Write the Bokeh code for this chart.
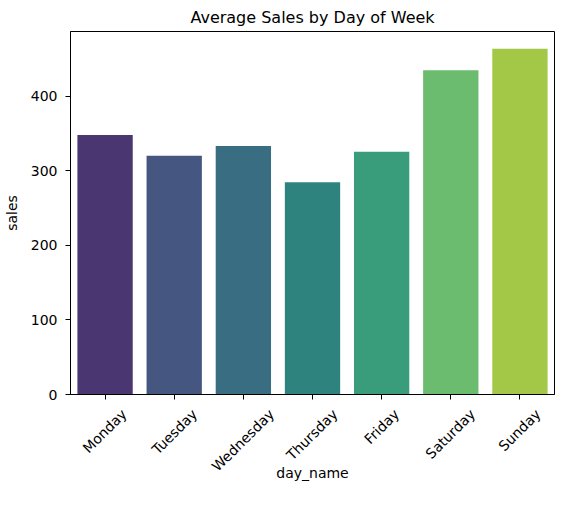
import math
from bokeh.plotting import figure
from bokeh.models import Range1d, ColumnDataSource, FixedTicker, CustomJSTickFormatter
from bokeh.embed import file_html
from bokeh.resources import INLINE

days = ["Monday", "Tuesday", "Wednesday", "Thursday", "Friday", "Saturday", "Sunday"]
sales = [347.8, 320.1, 333.3, 284.6, 325.4, 434.6, 463.5]
colors = ["#4a3670", "#455681", "#386d82", "#2f837f", "#399d7b", "#6bbc6e", "#a3c746"]
y_ticks = [0, 100, 200, 300, 400]

FONT = "DejaVu Sans"
FS = 14.0  # px

# DejaVu Sans advance widths (em fractions): used to centre each rotated label on its tick
ADV = {"M": .863, "o": .612, "n": .634, "d": .635, "a": .613, "y": .592, "T": .611,
       "u": .634, "e": .615, "s": .521, "W": .989, "h": .634, "r": .411, "F": .575,
       "i": .278, "S": .635, "t": .392}

W, H = 555, 492
BL, BR, BT, BB = 59, 1, 24, 98
frame_w = W - BL - BR
ymax = max(sales) * 1.05

n = len(days)
centers = [i + 0.5 for i in range(n)]  # category slots on a 0..n axis
src = ColumnDataSource(dict(x=centers, day=days, sales=sales, color=colors))

p = figure(
    width=W, height=H,
    x_range=Range1d(0, n),
    y_range=Range1d(0, ymax),
    output_backend="svg", toolbar_location=None,
    min_border_left=BL, min_border_right=BR, min_border_top=BT, min_border_bottom=BB,
    title="Average Sales by Day of Week",
)
p.vbar(x="x", top="sales", width=0.8, fill_color="color", line_color=None, source=src)

p.title.text_font = FONT
p.title.text_font_size = "16px"
p.title.text_font_style = "normal"
p.title.align = "center"
p.title.text_color = "black"

p.outline_line_color = "black"
p.outline_line_width = 1
p.xgrid.visible = False
p.ygrid.visible = False
p.background_fill_color = "white"
p.border_fill_color = "white"

# ticks at category centres (minor ticks); label positions shifted so that each
# 45-degree label is centred under its tick, as matplotlib does
cat_px = frame_w / n
label_pos = []
for c, d in zip(centers, days):
    w = sum(ADV.get(ch, 0.6) for ch in d) * FS
    label_pos.append(c + 0.3535 * w / cat_px)

xax = p.xaxis[0]
yax = p.yaxis[0]
xax.ticker = FixedTicker(ticks=label_pos, minor_ticks=centers)
xax.formatter = CustomJSTickFormatter(
    args=dict(pos=label_pos, names=days),
    code="""
    let best = 0;
    for (let i = 0; i < pos.length; i++) {
        if (Math.abs(pos[i] - tick) < Math.abs(pos[best] - tick)) best = i;
    }
    return names[best];
    """)
yax.ticker = FixedTicker(ticks=y_ticks)

for ax in (xax, yax):
    ax.axis_line_color = "black"
    ax.major_label_text_font = FONT
    ax.major_label_text_font_size = "14px"
    ax.major_label_text_color = "black"
    ax.axis_label_text_font = FONT
    ax.axis_label_text_font_size = "14px"
    ax.axis_label_text_font_style = "normal"
    ax.axis_label_text_color = "black"

yax.major_tick_line_color = "black"
yax.major_tick_out = 5
yax.major_tick_in = 0
yax.minor_tick_line_color = None
yax.axis_label = "sales"
yax.major_label_standoff = 8
yax.axis_label_standoff = 8

xax.major_tick_line_color = None
xax.major_tick_out = 0
xax.major_tick_in = 0
xax.minor_tick_line_color = "black"
xax.minor_tick_out = 5
xax.minor_tick_in = 0
xax.axis_label = "day_name"
xax.major_label_orientation = math.pi / 4
xax.major_label_standoff = 12
xax.axis_label_standoff = -18

open("out.html", "w").write(file_html(p, INLINE))
